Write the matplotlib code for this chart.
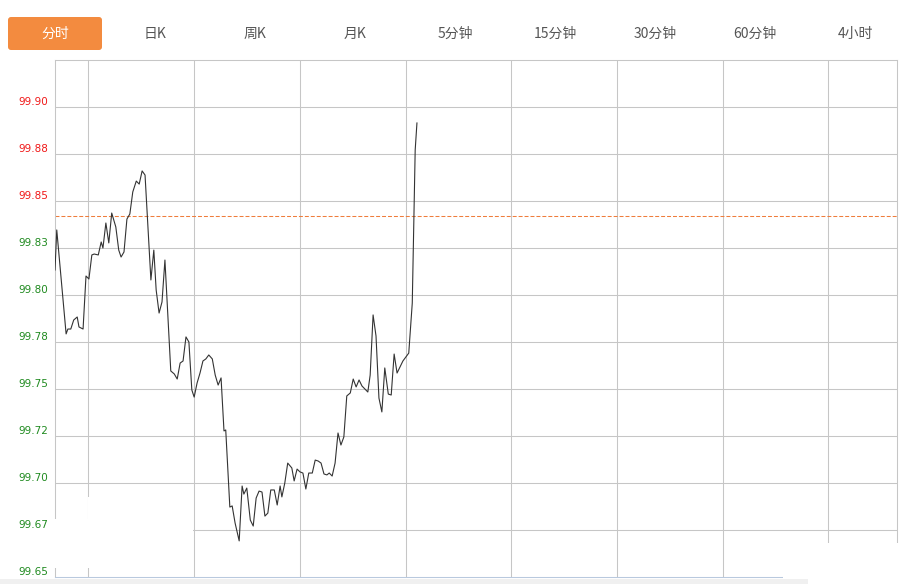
import matplotlib
matplotlib.use('Agg')
import matplotlib.pyplot as plt
from matplotlib.patches import FancyBboxPatch, Rectangle
from matplotlib.transforms import Affine2D, ScaledTranslation

# tabs across the top, first one is the active one
tabs = ['分时', '日K', '周K', '月K', '5分钟', '15分钟', '30分钟', '60分钟', '4小时']

# minutes from the start of the session and price at that minute
minutes = [0, 3, 19, 22, 27, 32, 38, 41, 48, 53,
           58, 63, 67, 74, 79, 82, 87, 92, 97, 104,
           109, 113, 118, 123, 128, 133, 139, 144, 149, 154,
           164, 169, 173, 178, 183, 188, 198, 204, 209, 214,
           219, 224, 229, 234, 238, 243, 248, 253, 258, 263,
           269, 274, 279, 284, 289, 292, 299, 303, 308, 315,
           320, 323, 328, 334, 339, 344, 349, 354, 359, 364,
           369, 375, 380, 385, 388, 393, 398, 405, 409, 414,
           419, 424, 429, 434, 440, 445, 450, 455, 460, 465,
           469, 474, 479, 484, 489, 494, 499, 505, 510, 515,
           520, 525, 530, 535, 539, 544, 549, 554, 559, 564,
           570, 575, 580, 585, 590, 595, 600, 605, 611, 616,
           619]
prices = [99.8133, 99.8346, 99.7793, 99.7819, 99.7819, 99.7867, 99.7883, 99.7830, 99.7819, 99.8101,
          99.8085, 99.8213, 99.8218, 99.8213, 99.8282, 99.8250, 99.8383, 99.8277, 99.8436, 99.8362,
          99.8239, 99.8202, 99.8229, 99.8404, 99.8431, 99.8548, 99.8606, 99.8590, 99.8660, 99.8638,
          99.8080, 99.8239, 99.8027, 99.7904, 99.7963, 99.8186, 99.7596, 99.7580, 99.7553, 99.7638,
          99.7649, 99.7777, 99.7750, 99.7495, 99.7457, 99.7532, 99.7585, 99.7649, 99.7660, 99.7681,
          99.7660, 99.7574, 99.7521, 99.7559, 99.7277, 99.7282, 99.6872, 99.6878, 99.6787, 99.6692,
          99.6984, 99.6941, 99.6973, 99.6803, 99.6771, 99.6920, 99.6957, 99.6952, 99.6824, 99.6840,
          99.6963, 99.6963, 99.6883, 99.6984, 99.6926, 99.7000, 99.7106, 99.7080, 99.7011, 99.7074,
          99.7059, 99.7053, 99.6968, 99.7053, 99.7053, 99.7122, 99.7117, 99.7106, 99.7048, 99.7043,
          99.7053, 99.7037, 99.7106, 99.7266, 99.7202, 99.7245, 99.7463, 99.7479, 99.7553, 99.7511,
          99.7548, 99.7516, 99.7500, 99.7484, 99.7574, 99.7894, 99.7782, 99.7452, 99.7378, 99.7612,
          99.7473, 99.7468, 99.7686, 99.7585, 99.7617, 99.7649, 99.7670, 99.7691, 99.7957, 99.8771,
          99.8915]

# previous close (dashed line)
prev_close = 99.842

# y grid and the labels the page shows for them
y_ticks = [99.65, 99.675, 99.70, 99.725, 99.75, 99.775, 99.80, 99.825, 99.85, 99.875, 99.90]
y_labels = ['99.65', '99.67', '99.70', '99.72', '99.75', '99.78', '99.80', '99.83', '99.85', '99.88', '99.90']

# vertical grid every 3 hours
x_grid = [57, 238, 419, 600, 780, 961, 1142, 1322]

W, H, DPI = 909, 584, 100
fig = plt.figure(figsize=(W / DPI, H / DPI), dpi=DPI)
# pixel coords measured from the top left corner
px = Affine2D().scale(1, -1).translate(0, H).scale(1.0 / DPI) + fig.dpi_scale_trans

ax = fig.add_axes([55 / W, (H - 577) / H, (897 - 55) / W, (577 - 60) / H])
ax.set_xlim(0, 1440)
ax.set_ylim(99.65, 99.925)
ax.set_xticks([])
ax.set_yticks([])

grid_col = '#c6c6c6'
for v in y_ticks[1:]:
    ax.axhline(v, color=grid_col, lw=0.75, zorder=1)
for v in x_grid:
    ax.axvline(v, color=grid_col, lw=0.75, zorder=1)
for s in ['left', 'right', 'top']:
    ax.spines[s].set_color(grid_col)
    ax.spines[s].set_linewidth(0.75)
ax.spines['bottom'].set_color('#b9c9de')
ax.spines['bottom'].set_linewidth(0.75)

ax.axhline(prev_close, color='#ef7d3c', lw=0.75, dashes=(3.8, 1.9), zorder=2)
ax.plot(minutes, prices, color='#333333', lw=0.8, zorder=3)

# price labels sit just above their grid line, red above previous close
lab_tr = ax.get_yaxis_transform() + ScaledTranslation(-7 / DPI, 2 / DPI, fig.dpi_scale_trans)
for v, lab in zip(y_ticks, y_labels):
    col = '#f01818' if v > prev_close else '#1f8a1f'
    ax.text(0, v, lab, transform=lab_tr, ha='right', va='baseline',
            fontsize=7.5, color=col, family='DejaVu Sans')

# tab bar
fig.add_artist(FancyBboxPatch((8, 17), 94, 33, boxstyle='round,pad=0,rounding_size=3',
                              transform=px, facecolor='#f38b3f', edgecolor='none'))
for i, t in enumerate(tabs):
    fig.text((55 + 100 * i) / W, 1 - 34 / H, t, ha='center', va='center', fontsize=10,
             color='white' if i == 0 else '#555555',
             family=['Noto Sans CJK SC', 'DejaVu Sans'])

# wiped-out watermark patches and the strip under the chart
for x0, y0, w, h in [(53, 519, 36, 49), (88, 497, 105, 71), (808, 543, 101, 41), (783, 576, 126, 8)]:
    fig.add_artist(Rectangle((x0, y0), w, h, transform=px, facecolor='white', edgecolor='none'))
fig.add_artist(Rectangle((0, 579), 808, 5, transform=px, facecolor='#f0f0f0', edgecolor='none'))

fig.savefig('out.png', dpi=DPI)
